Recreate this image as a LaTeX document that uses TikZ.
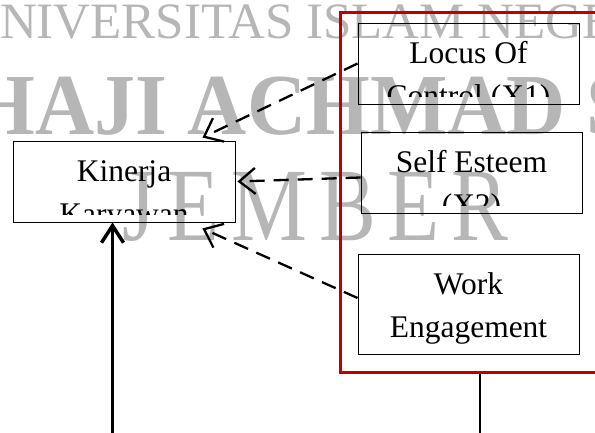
\documentclass[tikz,border=0pt]{standalone}
\usepackage{fontspec}
\setmainfont{Liberation Serif}
\usetikzlibrary{arrows.meta}

\definecolor{frred}{RGB}{192,0,0}
\definecolor{wmgray}{RGB}{182,182,182}

\begin{document}
\begin{tikzpicture}
  [ x=1pt, y=-1pt,
    wm/.style={text=wmgray, inner sep=0pt, anchor=base west},
    box/.style={draw=black, line width=0.9pt, minimum width=221pt,
    minimum height=81pt, inner sep=0pt},
    lbl/.style={font=\fontsize{31.5}{43}\selectfont, align=center,
    inner sep=0pt, anchor=base},
    boxtext/.style={path picture={
      \clip ([yshift=8pt]path picture bounding box.south west)
        rectangle (path picture bounding box.north east);
      \node [lbl] at ([yshift=-83pt]path picture bounding box.north) {#1};}},
    group/.style={draw=frred, line width=3pt, minimum width=280pt,
    minimum height=360pt, inner sep=0pt},
    dep/.style={draw, line width=2.3pt, dash pattern=on 15pt off 9pt,
    -{Straight Barb[length=16pt,width=26pt]}},
    main/.style={draw, line width=3.5pt, -{Straight Barb[length=17pt,width=22pt]}},
    link/.style={draw, line width=2.8pt}
  ]
  \useasboundingbox (0,0) rectangle (595,432);
  \clip (0,0) rectangle (595,432);

  % watermark
  \node (wm1) at (-37,38) [wm, font=\fontsize{51}{51}\selectfont] {UNIVERSITAS ISLAM NEGERI};
  \node (wm2) at (-236,134) [wm, font=\bfseries\fontsize{82}{82}\selectfont, yscale=1.06] {KIAI HAJI ACHMAD SIDDIQ};
  \node (wm3) at (122,240) [wm, font=\fontsize{104}{104}\selectfont\addfontfeatures{LetterSpace=14}, xscale=0.82] {JEMBER};

  \node (grp)   at (480,192)   [group] {};
  \node (locus) at (468.5,63.5) [box, boxtext={Locus Of\\Control (X1)}] {};
  \node (self)  at (471.5,172.5) [box, boxtext={Self Esteem\\(X2)}] {};
  \node (work)  at (468.5,304)  [box, minimum height=100pt, boxtext={Work\\Engagement}] {};
  \node (kin)   at (124,181.5)  [box, minimum width=222pt, boxtext={Kinerja\\Karyawan}] {};

  \draw [dep] (locus.west) -- ([xshift=-33pt,yshift=3pt]kin.north east);
  \draw [dep] ([yshift=-5pt]self.west) -- ([xshift=2pt]kin.east);
  \draw [dep] ([yshift=6pt]work.west) -- ([xshift=-33pt,yshift=-6pt]kin.south east);

  \coordinate (bl) at (112.5,445);
  \coordinate (br) at (480,445);
  \draw [main] (bl) -- (bl |- kin.south);
  \draw [link] (grp.south) -- (br);
\end{tikzpicture}
\end{document}
